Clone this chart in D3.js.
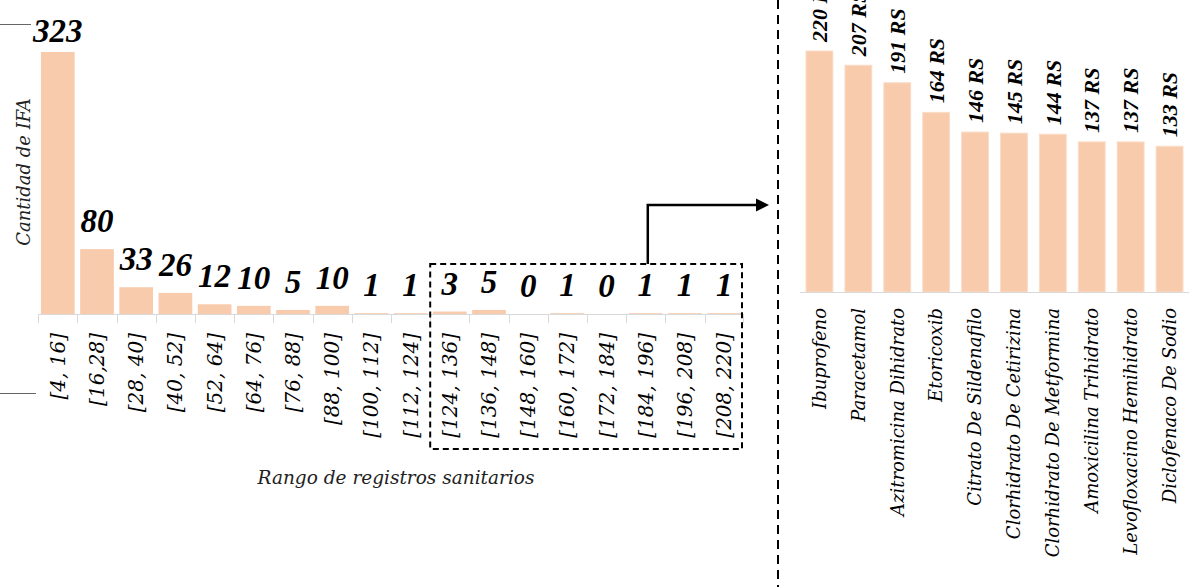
<!DOCTYPE html>
<html><head><meta charset="utf-8">
<script src="https://cdn.jsdelivr.net/npm/d3@7"></script>
<style>body{margin:0;background:#fff} svg{display:block}</style>
</head><body>
<svg id="c" width="1198" height="587"></svg>
<script>
// ---- data ----
const rangeCategories = ["[4, 16]","[16,28]","[28, 40]","[40, 52]","[52, 64]","[64, 76]","[76, 88]","[88, 100]","[100, 112]","[112, 124]","[124, 136]","[136, 148]","[148, 160]","[160, 172]","[172, 184]","[184, 196]","[196, 208]","[208, 220]"];
const ifaCounts = [323,80,33,26,12,10,5,10,1,1,3,5,0,1,0,1,1,1];
const drugNames = ["Ibuprofeno","Paracetamol","Azitromicina Dihidrato","Etoricoxib","Citrato De Sildenafilo","Clorhidrato De Cetirizina","Clorhidrato De Metformina","Amoxicilina Trihidrato","Levofloxacino Hemihidrato","Diclofenaco De Sodio"];
const registrations = [220,207,191,164,146,145,144,137,137,133];
const zoomFrom = "[124, 136]";
const arrowFrom = "[184, 196]";
const yTitle = "Cantidad de IFA";
const xTitle = "Rango de registros sanitarios";

const svg = d3.select("#c");
const BAR = "#F8CBAD";
const serif = "'DejaVu Serif', serif";
const valFont = "'Liberation Serif', serif";

// ---- left chart ----
const xL = d3.scaleBand().domain(rangeCategories).range([39, 743]).paddingInner(0.14).paddingOuter(0.05);
const yL = d3.scaleLinear().domain([0, 323]).range([314, 52]);
const leftData = rangeCategories.map((c, i) => ({c, v: ifaCounts[i]}));
const gL = svg.append("g");

gL.selectAll("rect").data(leftData).join("rect")
  .attr("x", d => xL(d.c)).attr("width", xL.bandwidth())
  .attr("y", d => yL(d.v)).attr("height", d => yL(0) - yL(d.v))
  .attr("fill", BAR);

// axis line + ticks at band boundaries
const stepL = xL.step(), offL = stepL * xL.paddingInner() / 2;
gL.append("line").attr("x1", xL.range()[0]).attr("x2", xL.range()[1])
  .attr("y1", yL(0) + 0.5).attr("y2", yL(0) + 0.5).attr("stroke", "#d9d9d9");
const bounds = rangeCategories.map(c => xL(c) - offL).concat([xL.range()[1]]);
gL.selectAll("line.tk").data(bounds).join("line").attr("class", "tk")
  .attr("x1", d => Math.round(d) + 0.5).attr("x2", d => Math.round(d) + 0.5)
  .attr("y1", yL(0)).attr("y2", yL(0) + 9).attr("stroke", "#d9d9d9");

// tick labels
gL.selectAll("text.tl").data(leftData).join("text").attr("class", "tl")
  .attr("transform", d => `translate(${xL(d.c) + xL.bandwidth() / 2},${yL(0) + 19}) rotate(-90)`)
  .attr("dy", "0.35em").attr("text-anchor", "end")
  .style("font-family", serif).style("font-style", "italic").style("font-size", "20px").style("fill", "#000")
  .text(d => d.c);

// value labels
gL.selectAll("text.vl").data(leftData).join("text").attr("class", "vl")
  .attr("x", d => xL(d.c) + xL.bandwidth() / 2)
  .attr("y", d => Math.max(yL(d.v) - 17, 42))
  .attr("text-anchor", "middle")
  .style("font-family", valFont).style("font-weight", "bold").style("font-style", "italic").style("font-size", "33px").style("fill", "#000")
  .text(d => d.v);

// axis titles
gL.append("text").attr("transform", "translate(24,172) rotate(-90)")
  .attr("dy", "0.35em").attr("text-anchor", "middle")
  .style("font-family", serif).style("font-style", "italic").style("font-size", "18px").style("fill", "#222")
  .text(yTitle);
gL.append("text").attr("x", 396).attr("y", 484).attr("text-anchor", "middle")
  .style("font-family", serif).style("font-style", "italic").style("font-size", "18.5px").style("fill", "#222")
  .text(xTitle);

// remnant bracket lines at left edge
gL.append("line").attr("x1", 0).attr("x2", 31).attr("y1", 24.5).attr("y2", 24.5).attr("stroke", "#666");
gL.append("line").attr("x1", 0).attr("x2", 36).attr("y1", 393.5).attr("y2", 393.5).attr("stroke", "#666");

// dashed zoom box
const boxL = xL(zoomFrom) - offL, boxR = xL.range()[1] - 1;
const boxT = 264, boxB = 449;
gL.append("rect").attr("x", boxL).attr("y", boxT).attr("width", boxR - boxL).attr("height", boxB - boxT)
  .attr("fill", "none").attr("stroke", "#000").attr("stroke-width", 2).attr("stroke-dasharray", "6,4");

// arrow
const ax = xL(arrowFrom) + xL.bandwidth() / 2 + 2;
gL.append("path").attr("d", `M${ax},${boxT} V205 H759`).attr("fill", "none").attr("stroke", "#000").attr("stroke-width", 2.5);
gL.append("path").attr("d", "M756,198.5 L769,205 L756,211.5 Z").attr("fill", "#000");

// divider
svg.append("line").attr("x1", 778).attr("x2", 778).attr("y1", 0).attr("y2", 587)
  .attr("stroke", "#000").attr("stroke-width", 2).attr("stroke-dasharray", "9,6");

// ---- right chart ----
const xR = d3.scaleBand().domain(drugNames).range([800, 1189]).paddingInner(0.31).paddingOuter(0.155);
const yR = d3.scaleLinear().domain([0, 220]).range([292, 51]);
const rightData = drugNames.map((c, i) => ({c, v: registrations[i]}));
const gR = svg.append("g");

gR.selectAll("rect").data(rightData).join("rect")
  .attr("x", d => xR(d.c)).attr("width", xR.bandwidth())
  .attr("y", d => yR(d.v)).attr("height", d => yR(0) - yR(d.v))
  .attr("fill", BAR).attr("stroke", "#fbdcc6").attr("stroke-width", 1);

gR.append("line").attr("x1", xR.range()[0]).attr("x2", xR.range()[1])
  .attr("y1", yR(0) + 0.5).attr("y2", yR(0) + 0.5).attr("stroke", "#d9d9d9");

gR.selectAll("text.vl").data(rightData).join("text").attr("class", "vl")
  .attr("transform", d => `translate(${xR(d.c) + xR.bandwidth() / 2},${yR(d.v) - 9}) rotate(-90)`)
  .attr("dy", "0.35em").attr("text-anchor", "start")
  .style("font-family", valFont).style("font-weight", "bold").style("font-style", "italic").style("font-size", "22px").style("fill", "#000")
  .text(d => d.v + " RS");

gR.selectAll("text.tl").data(rightData).join("text").attr("class", "tl")
  .attr("transform", d => `translate(${xR(d.c) + xR.bandwidth() / 2},${yR(0) + 16}) rotate(-90)`)
  .attr("dy", "0.35em").attr("text-anchor", "end")
  .style("font-family", serif).style("font-style", "italic").style("font-size", "18px").style("fill", "#000")
  .text(d => d.c);
</script>
</body></html>
